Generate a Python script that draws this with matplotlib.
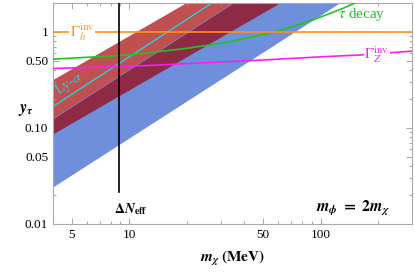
import numpy as np
import matplotlib
matplotlib.use("Agg")
import matplotlib.pyplot as plt
from matplotlib.ticker import FixedLocator, FixedFormatter, LogLocator, NullFormatter

plt.rcParams['font.family'] = ['Liberation Serif', 'DejaVu Serif']
plt.rcParams['mathtext.fontset'] = 'stix'

# band edges, straight in log-log
band_m = [4, 300]
red_hi = [0.320, 45.8]
red_lo = [0.087, 12.5]
blue_hi = [0.125, 31.3]
blue_lo = [0.0239, 6.0]

# Lyman-alpha line
lya_m = [4, 30]
lya_y = [0.167, 2.29]

# tau decay
tau_m = [4, 10, 20, 30, 40, 60, 80, 100, 130, 160]
tau_y = [0.52, 0.575, 0.675, 0.76, 0.85, 1.02, 1.22, 1.43, 1.75, 2.1]

# Gamma_Z invisible
gz_m = [4, 7, 12, 24, 50, 100, 160, 300]
gz_y = [0.416, 0.43, 0.445, 0.476, 0.51, 0.55, 0.575, 0.63]

# Gamma_h invisible
gh_y = 1.0

# Delta N_eff
neff_m = 8.9
neff_ylo = 0.0216

xticks = [5, 10, 50, 100]
xlabels = ['5', '10', '50', '100']
yticks = [0.01, 0.05, 0.1, 0.5, 1]
ylabels = ['0.01', '0.05', '0.10', '0.50', '1']

fig = plt.figure(figsize=(4.15, 2.72), dpi=100)
ax = fig.add_axes([0.1277, 0.1765, 0.8651, 0.8125])
ax.set_xscale('log')
ax.set_yscale('log')

c_red = '#c04f50'
c_dark = '#8e2a43'
c_blue = '#6f8fdc'

ax.fill_between(band_m, red_lo, red_hi, color=c_red, lw=0, zorder=1)
ax.fill_between(band_m, blue_lo, blue_hi, color=c_blue, lw=0, zorder=1)
ax.fill_between(band_m, red_lo, blue_hi, color=c_dark, lw=0, zorder=2)

ax.plot(lya_m, lya_y, color='#22d3e0', lw=1.0, zorder=3)
ax.plot(tau_m, tau_y, color='#1fc41f', lw=1.2, zorder=3)
ax.plot(gz_m, gz_y, color='#f520f0', lw=1.2, zorder=3)
ax.axhline(gh_y, color='#ff9020', lw=1.2, zorder=3)
ax.plot([neff_m, neff_m], [neff_ylo, 2.5], color='black', lw=1.2, zorder=4)

box = dict(facecolor='white', edgecolor='none', pad=0.5)
ax.text(5.7, 1.0, r'$\Gamma_h^{\rm inv}$', color='#ff9020', fontsize=11,
        ha='center', va='center', bbox=box, zorder=5)
ax.text(196, 0.575, r'$\Gamma_Z^{\rm inv}$', color='#f520f0', fontsize=11,
        ha='center', va='center', bbox=box, zorder=5)
ax.text(165, 1.52, r'$\tau$ decay', color='#1fc41f', fontsize=11,
        ha='center', va='center', zorder=5)
ax.text(4.85, 0.29, r'Ly-$\alpha$', color='#22d3e0', fontsize=10,
        ha='center', va='center', rotation=33, zorder=5)
ax.text(10.2, 0.0142, r'$\mathbf{\Delta}\mathbfit{N}_{\mathbf{eff}}$', fontsize=10,
        ha='center', va='center', zorder=5)
ax.text(0.836, 0.072, r'$\mathbfit{m}_{\mathbfit{\phi}}\mathbf{\ =\ 2}\mathbfit{m}_{\mathbfit{\chi}}$',
        transform=ax.transAxes, fontsize=11.5, ha='center', va='center')

ax.set_xlim(4, 300)
ax.set_ylim(0.01, 2.0)

ax.xaxis.set_major_locator(FixedLocator(xticks))
ax.xaxis.set_major_formatter(FixedFormatter(xlabels))
ax.xaxis.set_minor_locator(LogLocator(base=10, subs=np.arange(2, 10)))
ax.xaxis.set_minor_formatter(NullFormatter())
ax.yaxis.set_major_locator(FixedLocator(yticks))
ax.yaxis.set_major_formatter(FixedFormatter(ylabels))
ax.yaxis.set_minor_locator(LogLocator(base=10, subs=np.arange(2, 10)))
ax.yaxis.set_minor_formatter(NullFormatter())

ax.tick_params(which='both', direction='in', top=True, right=True, colors='#999999',
               labelcolor='black', labelsize=9.5, width=0.6)
ax.tick_params(which='major', length=4)
ax.tick_params(which='minor', length=2.5)
for s in ax.spines.values():
    s.set_color('#aaaaaa')
    s.set_linewidth(0.8)

ax.set_xlabel(r'$\mathbfit{m}_{\mathbfit{\chi}}$ $\mathbf{(MeV)}$', fontsize=11, labelpad=6)
ax.text(-0.075, 0.515, r'$\mathbfit{y}_{\mathbfit{\tau}}$', transform=ax.transAxes,
        fontsize=11.5, ha='center', va='center')

fig.savefig('out.png', dpi=100)
